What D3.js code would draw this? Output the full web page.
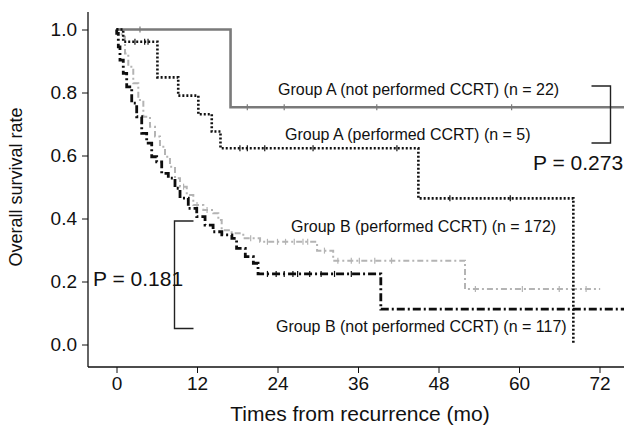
<!DOCTYPE html>
<html>
<head>
<meta charset="utf-8">
<script src="https://cdn.jsdelivr.net/npm/d3@7"></script>
<style>
  body { margin: 0; background: #fff; }
  svg text { font-family: "Liberation Sans", Arial, sans-serif; }
</style>
</head>
<body>
<div id="chart"></div>
<script>
// Kaplan-Meier steps: [months, survival]
const groupANotCCRT = [[0, 1.0], [17.0, 0.753], [75.7, 0.753]];
const groupANotCCRTCensor = [3.5, 19.5, 25, 38.8, 58.9];

const groupACCRT = [[0, 1.0], [1.0, 0.961], [6.1, 0.848], [9.2, 0.790], [12.2, 0.731],
  [14.2, 0.676], [15.5, 0.623], [45.0, 0.464], [68.1, 0.0], [68.1, 0.0]];
const groupACCRTCensor = [2.75, 4.2, 4.7, 18.4, 19.5, 22.1, 29.3, 41.8, 49.7, 58.7];

const groupBCCRT = [[0, 1.0], [0.78, 0.977], [1.27, 0.924], [1.76, 0.882], [2.5, 0.829],
  [3.25, 0.776], [4.0, 0.723], [4.99, 0.691], [5.74, 0.660], [6.48, 0.628], [7.23, 0.596],
  [7.97, 0.564], [8.72, 0.528], [9.47, 0.501], [10.47, 0.475], [11.45, 0.443],
  [12.94, 0.427], [14.43, 0.417], [15.18, 0.395], [15.68, 0.363], [17.17, 0.353],
  [18.9, 0.337], [21.4, 0.326], [29.9, 0.298], [32.3, 0.266], [51.95, 0.176], [72.1, 0.176]];
const groupBCCRTCensor = [10.0, 12.0, 13.5, 20.0, 22.5, 24.0, 25.2, 26.5, 27.8, 28.5, 31.0,
  33.0, 35.0, 36.2, 38.5, 41.0, 53.5, 60.5, 66.0, 70.0];

const groupBNotCCRT = [[0, 1.0], [0.03, 0.988], [0.27, 0.945], [0.52, 0.903], [1.01, 0.861],
  [1.52, 0.818], [2.27, 0.766], [3.01, 0.723], [3.76, 0.670], [4.5, 0.639], [5.25, 0.596],
  [5.99, 0.580], [6.74, 0.543], [7.72, 0.528], [8.72, 0.496], [9.47, 0.465], [10.7, 0.432],
  [11.96, 0.406], [13.2, 0.379], [14.4, 0.358], [15.7, 0.348], [17.2, 0.337], [17.9, 0.305],
  [19.2, 0.279], [20.4, 0.258], [21.1, 0.224], [39.4, 0.112], [75.7, 0.112]];
const groupBNotCCRTCensor = [22.5, 23.8, 25.0, 26.3, 27.0, 28.8, 30.5, 32.5, 35.0];

const xTicks = [0, 12, 24, 36, 48, 60, 72];
const yTicks = [0, 0.2, 0.4, 0.6, 0.8, 1.0];

const width = 624, height = 430;
const axisX = 88, axisY = 367;

const svg = d3.select("#chart").append("svg")
    .attr("width", width)
    .attr("height", height);

const x = d3.scaleLinear().domain([0, 72]).range([116.5, 599.5]);
const y = d3.scaleLinear().domain([0, 1]).range([344.5, 29.5]);

// axes
const yAxis = svg.append("g")
    .attr("transform", `translate(${axisX},0)`)
    .call(d3.axisLeft(y).tickValues(yTicks).tickFormat(d3.format(".1f")).tickSize(6).tickSizeOuter(0));
yAxis.select(".domain").remove();
yAxis.selectAll("text").attr("font-size", 19).attr("fill", "#111").attr("x", -11);
yAxis.selectAll("line").attr("stroke", "#111");

const xAxis = svg.append("g")
    .attr("transform", `translate(0,${axisY})`)
    .call(d3.axisBottom(x).tickValues(xTicks).tickSize(6).tickSizeOuter(0));
xAxis.select(".domain").remove();
xAxis.selectAll("text").attr("font-size", 19).attr("fill", "#111").attr("y", 10);
xAxis.selectAll("line").attr("stroke", "#111");

svg.append("line").attr("x1", axisX).attr("x2", axisX).attr("y1", 12).attr("y2", axisY)
    .attr("stroke", "#111").attr("stroke-width", 1.3);
svg.append("line").attr("x1", axisX).attr("x2", width).attr("y1", axisY).attr("y2", axisY)
    .attr("stroke", "#111").attr("stroke-width", 1.3);

svg.append("text")
    .attr("transform", `translate(22,${(y(0) + y(1)) / 2}) rotate(-90)`)
    .attr("text-anchor", "middle")
    .attr("font-size", 18)
    .attr("fill", "#111")
    .text("Overall survival rate");

svg.append("text")
    .attr("x", 360).attr("y", 421)
    .attr("text-anchor", "middle")
    .attr("font-size", 21)
    .attr("fill", "#111")
    .text("Times from recurrence (mo)");

// curves
const line = d3.line()
    .x(d => x(d[0]))
    .y(d => y(d[1]))
    .curve(d3.curveStepAfter);

function stepAt(data, t) {
    let s = data[0][1];
    data.forEach(d => { if (d[0] <= t) s = d[1]; });
    return s;
}

const series = [
    {data: groupBCCRT, censor: groupBCCRTCensor, color: "#b4b4b4", width: 2, dash: "6,3,2,3"},
    {data: groupANotCCRT, censor: groupANotCCRTCensor, color: "#7a7a7a", width: 2.6, dash: null},
    {data: groupBNotCCRT, censor: groupBNotCCRTCensor, color: "#0d0d0d", width: 2.8, dash: "8,3,2,3"},
    {data: groupACCRT, censor: groupACCRTCensor, color: "#111", width: 2.6, dash: "2,2"}
];

series.forEach(s => {
    svg.append("path")
        .datum(s.data)
        .attr("fill", "none")
        .attr("stroke", s.color)
        .attr("stroke-width", s.width)
        .attr("stroke-dasharray", s.dash)
        .attr("d", line);

    svg.selectAll(null)
        .data(s.censor)
        .enter().append("line")
        .attr("x1", d => x(d)).attr("x2", d => x(d))
        .attr("y1", d => y(stepAt(s.data, d)) - 3)
        .attr("y2", d => y(stepAt(s.data, d)) + 3)
        .attr("stroke", s.color)
        .attr("stroke-width", 1.2);
});

// labels
const labels = [
    {text: "Group A (not performed CCRT) (n = 22)", x: 278, y: 95},
    {text: "Group A (performed CCRT) (n = 5)", x: 285, y: 140},
    {text: "Group B (performed CCRT) (n = 172)", x: 291, y: 232},
    {text: "Group B (not performed CCRT) (n = 117)", x: 276, y: 332}
];
svg.selectAll(".lab")
    .data(labels)
    .enter().append("text")
    .attr("class", "lab")
    .attr("x", d => d.x).attr("y", d => d.y)
    .attr("font-size", 16)
    .attr("fill", "#111")
    .text(d => d.text);

// p-value brackets
svg.append("path")
    .attr("d", "M591.5,86H610.5V143H591.5")
    .attr("fill", "none").attr("stroke", "#222").attr("stroke-width", 1.4);
svg.append("text")
    .attr("x", 533).attr("y", 170)
    .attr("font-size", 21).attr("fill", "#111")
    .text("P = 0.273");

svg.append("path")
    .attr("d", "M193.5,221H174.5V328.5H193.5")
    .attr("fill", "none").attr("stroke", "#222").attr("stroke-width", 1.4);
svg.append("text")
    .attr("x", 93).attr("y", 286)
    .attr("font-size", 21).attr("fill", "#111")
    .text("P = 0.181");
</script>
</body>
</html>
